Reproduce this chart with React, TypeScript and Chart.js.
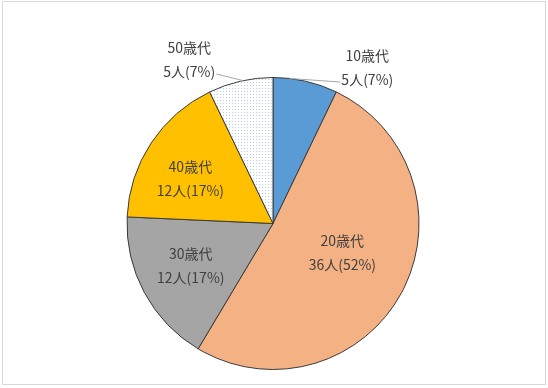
import React, { useEffect, useRef } from "react";
import { Chart, registerables } from "chart.js";

Chart.register(...registerables);

const categories = ["10歳代", "20歳代", "30歳代", "40歳代", "50歳代"];
const counts = [5, 36, 12, 12, 5];
const percentLabels = ["7%", "52%", "17%", "17%", "7%"];

const FONT = '14px "Noto Sans CJK JP", "Noto Sans", sans-serif';
const TEXT_COLOR = "#404040";

// label block centre relative to pie centre, in units of the radius
const labelPlacement = [
  { dx: 0.646, dy: -1.068, leader: { frac: 0.26, ex: 0.461, ey: -0.969 } },
  { dx: 0.475, dy: 0.202 },
  { dx: -0.563, dy: 0.291 },
  { dx: -0.566, dy: -0.308 },
  { dx: -0.574, dy: -1.123, leader: { frac: 0.54, ex: -0.388, ey: -1.024 } },
];

function makeDotPattern(ctx: CanvasRenderingContext2D) {
  const c = document.createElement("canvas");
  c.width = 3;
  c.height = 3;
  const g = c.getContext("2d")!;
  g.fillStyle = "#ffffff";
  g.fillRect(0, 0, 3, 3);
  g.fillStyle = "#b4cfe8";
  g.fillRect(1, 1, 1, 1);
  return ctx.createPattern(c, "repeat")!;
}

const labelPlugin = {
  id: "pieLabels",
  afterDatasetsDraw(chart: any) {
    const ctx = chart.ctx as CanvasRenderingContext2D;
    const meta = chart.getDatasetMeta(0);
    ctx.save();
    ctx.font = FONT;
    ctx.fillStyle = TEXT_COLOR;
    ctx.textAlign = "center";
    ctx.textBaseline = "middle";
    meta.data.forEach((arc: any, i: number) => {
      const { x, y, outerRadius, startAngle, endAngle } = arc.getProps(
        ["x", "y", "outerRadius", "startAngle", "endAngle"],
        true
      );
      const p = labelPlacement[i];
      const cx = x + p.dx * outerRadius;
      const cy = y + p.dy * outerRadius;
      if (p.leader) {
        const a = startAngle + (endAngle - startAngle) * p.leader.frac;
        ctx.save();
        ctx.strokeStyle = "#a6a6a6";
        ctx.lineWidth = 1;
        ctx.beginPath();
        ctx.moveTo(x + Math.cos(a) * outerRadius, y + Math.sin(a) * outerRadius);
        ctx.lineTo(x + p.leader.ex * outerRadius, y + p.leader.ey * outerRadius);
        ctx.stroke();
        ctx.restore();
      }
      ctx.fillText(categories[i], cx, cy - 12);
      ctx.fillText(`${counts[i]}人(${percentLabels[i]})`, cx, cy + 12);
    });
    ctx.restore();
  },
};

export default function App() {
  const ref = useRef<HTMLCanvasElement | null>(null);
  useEffect(() => {
    const canvas = ref.current!;
    const ctx = canvas.getContext("2d")!;
    const pattern = makeDotPattern(ctx);
    const chart = new Chart(canvas, {
      type: "pie",
      data: {
        labels: categories,
        datasets: [
          {
            data: counts,
            backgroundColor: ["#5b9bd5", "#f4b183", "#a5a5a5", "#ffc000", pattern as any],
            borderColor: "#3a3a3a",
            borderWidth: 1,
            hoverOffset: 0,
          },
        ],
      },
      options: {
        animation: false,
        responsive: false,
        devicePixelRatio: 1,
        radius: 146,
        layout: { padding: { left: 126, right: 128, top: 77, bottom: 18 } },
        plugins: {
          legend: { display: false },
          tooltip: { enabled: false },
        },
      },
      plugins: [labelPlugin],
    });
    return () => chart.destroy();
  }, []);
  return (
    <div style={{ position: "absolute", left: 0, top: 0, width: 548, height: 388, background: "#fff" }}>
      <div
        style={{
          position: "absolute",
          left: 2,
          top: 1,
          width: 542,
          height: 382,
          border: "1px solid #d9d9d9",
        }}
      />
      <canvas ref={ref} width={548} height={388} style={{ position: "absolute", left: 0, top: 0 }} />
    </div>
  );
}
